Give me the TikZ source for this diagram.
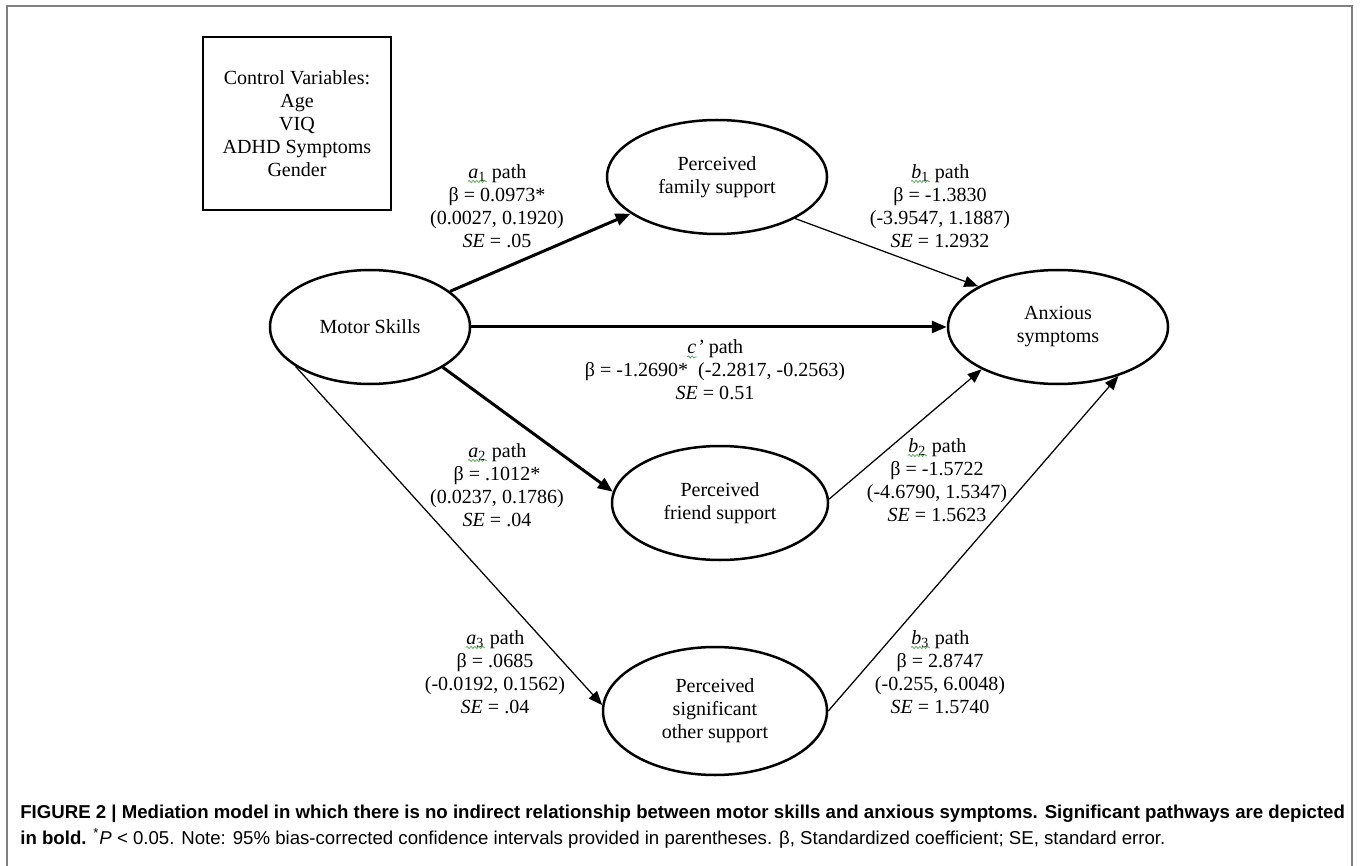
\documentclass[tikz,border=0pt]{standalone}
\usepackage{fontspec}
\setmainfont{Liberation Serif}
\newfontfamily\capfont{Liberation Sans}
\usetikzlibrary{arrows.meta,shapes.geometric,decorations.pathmorphing}
\definecolor{framegray}{gray}{0.5}
\definecolor{spellgreen}{RGB}{80,165,80}
\def\spell#1{\tikz[baseline=(w.base)]{\node[inner sep=0pt] (w) {#1};\draw[spellgreen,line width=0.4pt,decorate,decoration={snake,amplitude=0.6pt,segment length=2.2pt}] ([yshift=-1.8pt]w.base west) -- ([yshift=-1.8pt]w.base east);}}
\tikzset{
	var/.style={ellipse, draw, line width=0.5mm, align=center, inner sep=0pt},
	lbl/.style={align=center, inner sep=0pt},
	strong/.style={line width=0.6mm, -{Triangle[length=3mm,width=2.4mm]}},
	weak/.style={line width=0.25mm, -{Triangle[length=2.8mm,width=2.2mm]}},
	capline/.style={anchor=west, inner sep=0pt, font=\capfont\fontsize{10.6}{12}\selectfont}
}

\begin{document}
\begin{tikzpicture}[x=0.2mm, y=-0.2mm, font=\fontsize{11.4}{13.1}\selectfont]
		%%%%% START %%%%%
		\useasboundingbox (0,0) rectangle (1360,866);
		\draw[framegray, line width=0.4mm] (7,866) -- (7,6) -- (1352,6) -- (1352,866);
		
		\node[draw, line width=0.4mm, minimum width=37.6mm, minimum height=34.6mm, align=center] (ctrl) at (297,124) {Control Variables:\\Age\\VIQ\\ADHD Symptoms\\Gender};
		
		\node[var, minimum width=40mm, minimum height=22.8mm] (mot) at (370,327) {Motor Skills};
		\node[var, minimum width=44mm, minimum height=22.8mm] (fam) at (717,177) {Perceived\\family support};
		\node[var, minimum width=44mm, minimum height=22.8mm] (anx) at (1058,327) {Anxious\\symptoms};
		\node[var, minimum width=43.2mm, minimum height=22.8mm] (fri) at (720,503) {Perceived\\friend support};
		\node[var, minimum width=44.8mm, minimum height=25.6mm] (sig) at (715,711) {Perceived\\significant\\other support};
		
		\draw[strong] (mot.24) -- (fam.203);
		\draw[strong] (mot) -- (anx);
		\draw[strong] (mot.-29) -- (fri.174);
		\draw[weak] (mot.-152) -- (sig.177);
		\draw[weak] (fam.-28) -- (anx.153);
		\draw[weak] (fri.2) -- (anx.209);
		\draw[weak] (sig.east) -- (anx.-39);
		
		\node[lbl] (la1) at (497,206) {\spell{\textit{a}\textsubscript{1}} path\\β = 0.0973*\\(0.0027, 0.1920)\\\textit{SE} = .05};
		\node[lbl] (lb1) at (940,206) {\spell{\textit{b}\textsubscript{1}} path\\β = -1.3830\\(-3.9547, 1.1887)\\\textit{SE} = 1.2932};
		\node[lbl] (lc) at (715,370) {\spell{\textit{c}}\textit{’} path\\β = -1.2690*\enspace(-2.2817, -0.2563)\\\textit{SE} = 0.51};
		\node[lbl] (la2) at (497,485) {\spell{\textit{a}\textsubscript{2}} path\\β = .1012*\\(0.0237, 0.1786)\\\textit{SE} = .04};
		\node[lbl] (lb2) at (937,480) {\spell{\textit{b}\textsubscript{2}} path\\β = -1.5722\\(-4.6790, 1.5347)\\\textit{SE} = 1.5623};
		\node[lbl] (la3) at (495,672) {\spell{\textit{a}\textsubscript{3}} path\\β = .0685\\(-0.0192, 0.1562)\\\textit{SE} = .04};
		\node[lbl] (lb3) at (940,672) {\spell{\textit{b}\textsubscript{3}} path\\β = 2.8747\\(-0.255, 6.0048)\\\textit{SE} = 1.5740};
		
		\node[capline, font=\capfont\fontsize{10.6}{12}\selectfont\bfseries] (cap1) at (20,814) {FIGURE 2 | Mediation model in which there is no indirect relationship between motor skills and anxious symptoms. Significant pathways are depicted};
		\node[capline] (cap2) at (20,838) {\textbf{in bold.} \textsuperscript{*}\textit{P} < 0.05. Note: 95\% bias-corrected confidence intervals provided in parentheses. β, Standardized coefficient; SE, standard error.};
		%%%%% END %%%%%
	\end{tikzpicture}
\end{document}
